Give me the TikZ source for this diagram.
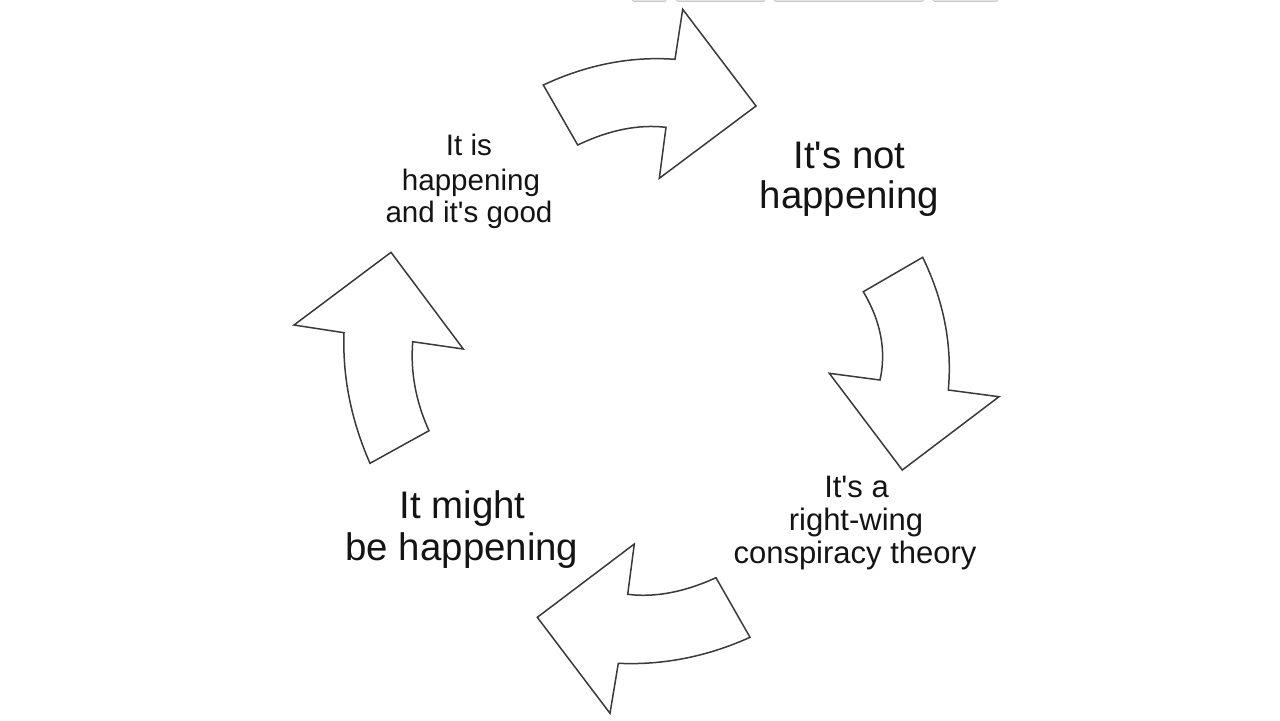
\documentclass[tikz,border=0pt]{standalone}
\usepackage{fontspec}
\setmainfont{Liberation Sans}
\definecolor{outline}{HTML}{3A3A3A}
\definecolor{ink}{HTML}{141414}
\definecolor{barfill}{HTML}{E4E4E4}
\definecolor{baredge}{HTML}{C8C8C8}
\newcommand{\apos}{\textquotesingle}
\tikzset{
  bigarrow/.style={draw=outline, fill=white, line width=0.75pt, line join=miter},
  biglabel/.style={anchor=base, inner sep=0pt, text=ink, font=\fontsize{19.2}{22}\selectfont},
  smalllabel/.style={anchor=base, inner sep=0pt, text=ink, font=\fontsize{14.8}{17}\selectfont},
  midlabel/.style={anchor=base, inner sep=0pt, text=ink, font=\fontsize{15.5}{17}\selectfont},
  topbar/.style={fill=barfill, draw=baredge, line width=0.4pt, rounded corners=0.8pt}
}
\begin{document}
\begin{tikzpicture}[x=0.5pt, y=-0.5pt]
\useasboundingbox (0,0) rectangle (1280,720);
\fill[white] (0,0) rectangle (1280,720);

% faint remnants at the top edge
\path[topbar] (632,-4) rectangle (666.5,1.5);
\path[topbar] (676,-4) rectangle (765,1.5);
\path[topbar] (774,-4) rectangle (924,1.5);
\path[topbar] (933,-4) rectangle (998,1.5);

% top arrow (pointing right)
\path[bigarrow] (543.3,85) .. controls (587.0,64.6) and (630.9,56.1) .. (675,59.3)
  -- (682.7,9.3) -- (756,106) -- (659.3,178.3) -- (666,127.3)
  .. controls (638.5,124.1) and (609.1,130.0) .. (577.7,145) -- cycle;

% right arrow (pointing down)
\path[bigarrow] (863.3,291.7) -- (922.7,257.3)
  .. controls (943.9,301.1) and (952.4,345.3) .. (948.3,390)
  -- (999,396.7) -- (902.3,470) -- (829.3,373.3) -- (880,380)
  .. controls (886.5,350.8) and (880.9,321.3) .. cycle;

% bottom arrow (pointing left)
\path[bigarrow] (716,577.7) -- (750,637.3)
  .. controls (707.2,656.6) and (663.3,665.3) .. (618.3,663.3)
  -- (610,713.3) -- (537.3,617.3) -- (634.3,544) -- (627.7,594.3)
  .. controls (654.7,597.7) and (684.1,592.2) .. cycle;

% left arrow (pointing up)
\path[bigarrow] (391,252.3) -- (463.3,349) -- (412.7,341.7)
  .. controls (410.3,372.0) and (415.8,401.7) .. (429,430.7)
  -- (370,463.3)
  .. controls (351.1,420.2) and (342.4,376.6) .. (344,332.7)
  -- (294,325) -- cycle;

% labels
\node[smalllabel] (tl1) at (469,155) {It is};
\node[smalllabel] (tl2) at (471,190) {happening};
\node[smalllabel] (tl3) at (469,222.5) {and it\apos s good};

\node[biglabel] (tr1) at (849.5,168) {It\apos s not};
\node[biglabel] (tr2) at (849.5,208) {happening};

\node[midlabel] (br1) at (856.5,497) {It\apos s a};
\node[midlabel] (br2) at (856,530.5) {right-wing};
\node[midlabel] (br3) at (855,563.5) {conspiracy theory};

\node[biglabel] (bl1) at (462.5,518.5) {It might};
\node[biglabel] (bl2) at (462,560.5) {be happening};
\end{tikzpicture}
\end{document}
